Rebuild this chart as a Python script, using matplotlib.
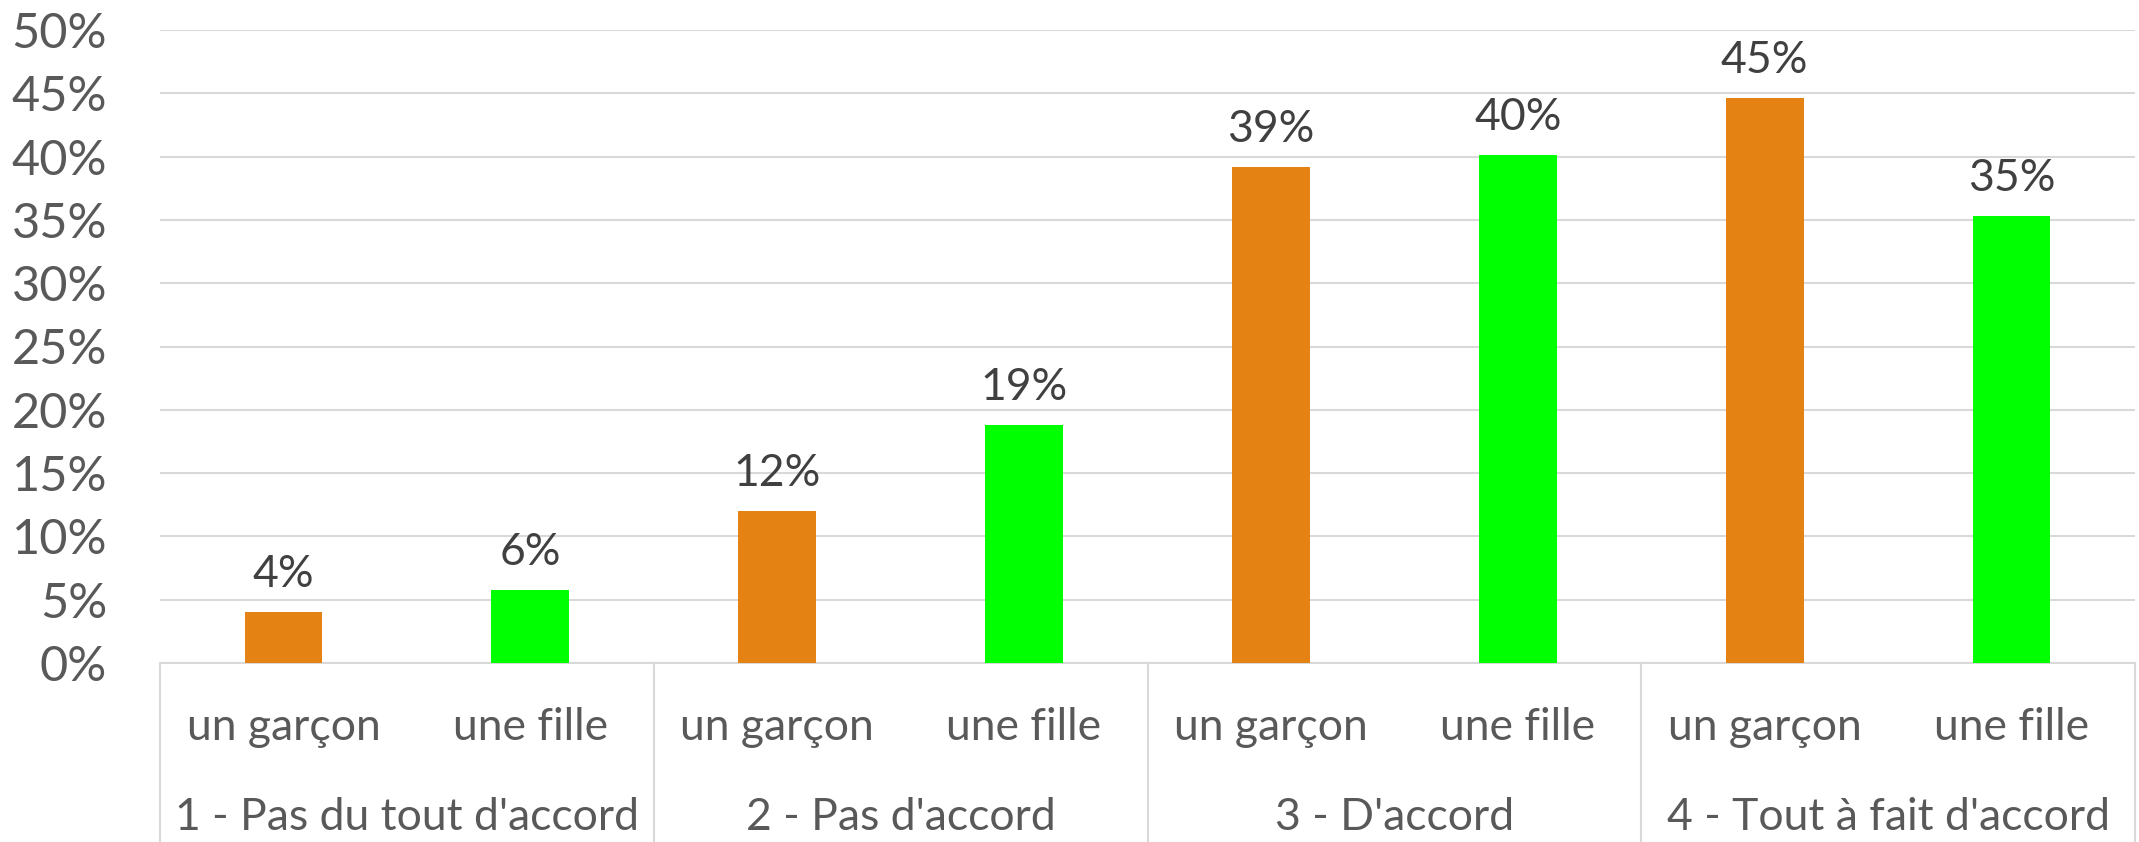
import matplotlib
matplotlib.use("Agg")
import matplotlib.pyplot as plt
import matplotlib.transforms as mtransforms

groups = ["1 - Pas du tout d'accord", "2 - Pas d'accord", "3 - D'accord", "4 - Tout à fait d'accord"]
subcats = ["un garçon", "une fille"]
garcon = [0.040, 0.120, 0.392, 0.446]
fille = [0.058, 0.188, 0.401, 0.353]
value_labels_garcon = ["4%", "12%", "39%", "45%"]
value_labels_fille = ["6%", "19%", "40%", "35%"]
yticks = [0.0, 0.05, 0.10, 0.15, 0.20, 0.25, 0.30, 0.35, 0.40, 0.45, 0.50]

ORANGE = "#E48213"
GREEN = "#00FF00"
GRAY_TXT = "#595959"
DARK_TXT = "#404040"
GRID = "#D9D9D9"

plt.rcParams['font.family'] = ['Lato', 'DejaVu Sans']

W, H = 2139, 842
fig = plt.figure(figsize=(W / 100, H / 100), dpi=100)
left, right, top, bottom = 160, 2135, 30, 663
ax = fig.add_axes([left / W, 1 - bottom / H, (right - left) / W, (bottom - top) / H])

xs_g = [2 * i for i in range(len(groups))]
xs_f = [2 * i + 1 for i in range(len(groups))]
bw = 0.315
ax.bar(xs_g, garcon, width=bw, color=ORANGE, zorder=3)
ax.bar(xs_f, fille, width=bw, color=GREEN, zorder=3)

fs_tick = 35
fs = 32
for x, v, lab in zip(xs_g, garcon, value_labels_garcon):
    ax.annotate(lab, (x, v), xytext=(0, 18), textcoords="offset points",
                ha="center", va="baseline", fontsize=fs, color=DARK_TXT)
for x, v, lab in zip(xs_f, fille, value_labels_fille):
    ax.annotate(lab, (x, v), xytext=(0, 18), textcoords="offset points",
                ha="center", va="baseline", fontsize=fs, color=DARK_TXT)

ax.set_xlim(-0.5, 2 * len(groups) - 0.5)
ax.set_ylim(0, 0.5)
ax.set_yticks(yticks)
ax.set_yticklabels([f"{int(round(t * 100))}%" for t in yticks], fontsize=fs_tick, color=GRAY_TXT)
ax.tick_params(axis="y", length=0, pad=38)
ax.set_xticks([])
ax.grid(axis="y", color=GRID, linewidth=1.5, zorder=0)
for s in ["top", "right", "left"]:
    ax.spines[s].set_visible(False)
ax.spines["bottom"].set_color(GRID)
ax.spines["bottom"].set_linewidth(1.5)

trans = mtransforms.blended_transform_factory(ax.transData, ax.transAxes)
ybot = -(H - bottom) / (bottom - top)
for b in [2 * i - 0.5 for i in range(len(groups) + 1)]:
    ax.plot([b, b], [0, ybot], transform=trans, color=GRID, linewidth=1.5, clip_on=False)

y_sub = -(727 - bottom) / (bottom - top)
y_grp = -(818 - bottom) / (bottom - top)
for i, g in enumerate(groups):
    for j, sc in enumerate(subcats):
        ax.text(2 * i + j, y_sub, sc, transform=trans, ha="center", va="center",
                fontsize=fs, color=GRAY_TXT)
    ax.text(2 * i + 0.5, y_grp, g, transform=trans, ha="center", va="center",
            fontsize=fs, color=GRAY_TXT)

fig.savefig("out.png", dpi=100, facecolor="white")
